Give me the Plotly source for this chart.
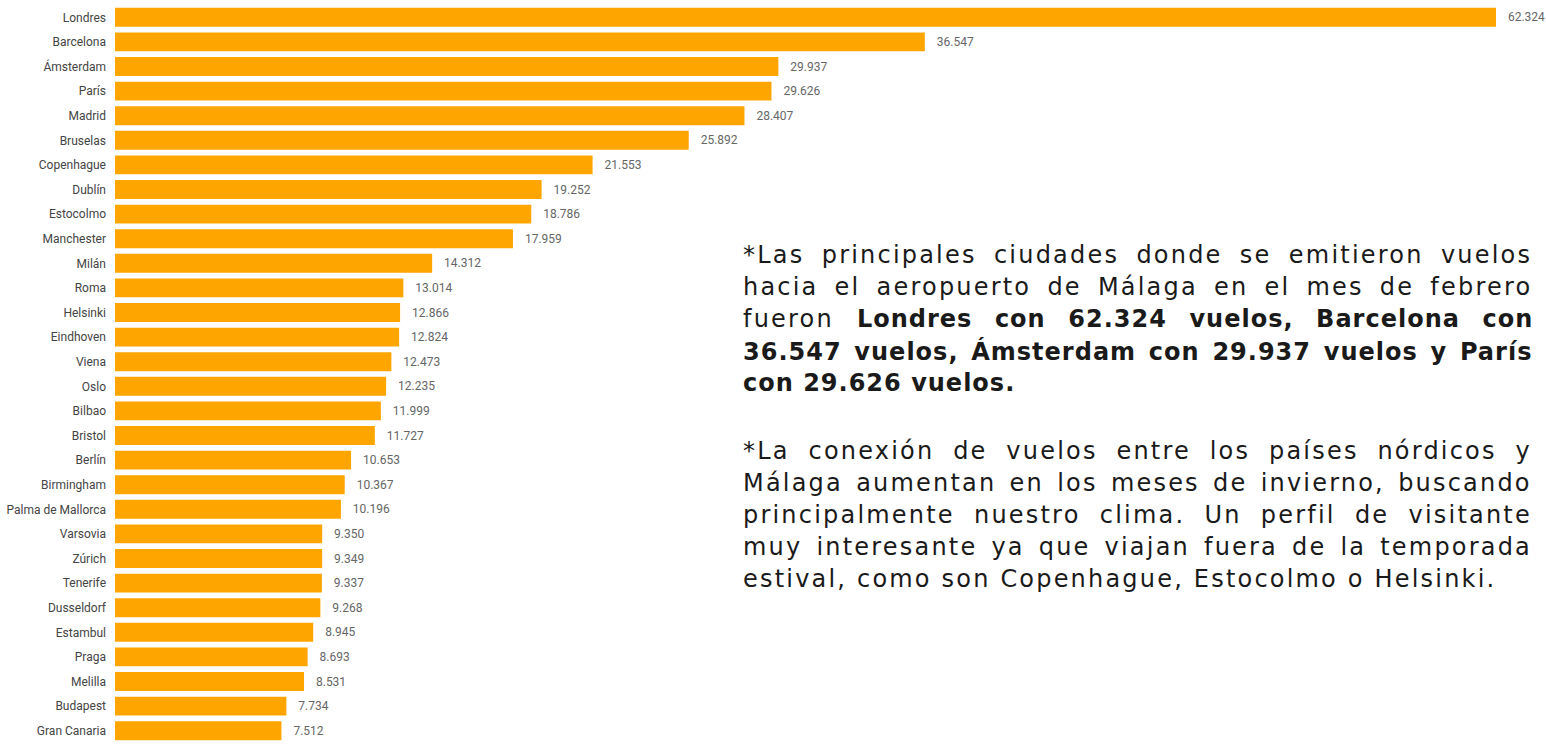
import plotly.graph_objects as go

cities = ["Londres", "Barcelona", "Ámsterdam", "París", "Madrid", "Bruselas",
          "Copenhague", "Dublín", "Estocolmo", "Manchester", "Milán", "Roma",
          "Helsinki", "Eindhoven", "Viena", "Oslo", "Bilbao", "Bristol", "Berlín",
          "Birmingham", "Palma de Mallorca", "Varsovia", "Zúrich", "Tenerife",
          "Dusseldorf", "Estambul", "Praga", "Melilla", "Budapest", "Gran Canaria"]
flights = [62324, 36547, 29937, 29626, 28407, 25892, 21553, 19252, 18786, 17959,
           14312, 13014, 12866, 12824, 12473, 12235, 11999, 11727, 10653, 10367,
           10196, 9350, 9349, 9337, 9268, 8945, 8693, 8531, 7734, 7512]

# each line: (normal part, bold part)
paragraph_1 = [
  ("*Las principales ciudades donde se emitieron vuelos", ""),
  ("hacia el aeropuerto de Málaga en el mes de febrero", ""),
  ("fueron ", "Londres con 62.324 vuelos, Barcelona con"),
  ("", "36.547 vuelos, Ámsterdam con 29.937 vuelos y París"),
  ("", "con 29.626 vuelos."),
]
paragraph_2 = [
  ("*La conexión de vuelos entre los países nórdicos y", ""),
  ("Málaga aumentan en los meses de invierno, buscando", ""),
  ("principalmente nuestro clima. Un perfil de visitante", ""),
  ("muy interesante ya que viajan fuera de la temporada", ""),
  ("estival, como son Copenhague, Estocolmo o Helsinki.", ""),
]
# extra word spacing (px) to fake justified text, last lines left as is
gaps_1 = [7.5, 6.3, 13.2, 3.4, 0]
gaps_2 = [9.0, 3.4, 9.4, 4.2, 0]


def fmt(v):
  return "\u00a0\u00a0\u00a0" + f"{v:,}".replace(",", ".")


def styled(normal, bold, gap):
  out = ""
  if normal:
    out += f'<span style="letter-spacing:2.2px;word-spacing:{gap}px">{normal}</span>'
  if bold:
    out += f'<b><span style="letter-spacing:1px;word-spacing:{gap}px">{bold}</span></b>'
  return out


fig = go.Figure()
fig.add_trace(go.Bar(
  x=flights,
  y=cities,
  orientation="h",
  marker=dict(color="#FFA500", line_width=0),
  text=[fmt(v) for v in flights],
  textposition="outside",
  textfont=dict(family="Roboto", size=12, color="#666666"),
  cliponaxis=False,
  hoverinfo="skip",
))

fig.update_layout(
  width=1546,
  height=747,
  margin=dict(l=115, r=0, t=5, b=4),
  paper_bgcolor="white",
  plot_bgcolor="white",
  bargap=0.23,
  showlegend=False,
  xaxis=dict(range=[0, 64580], visible=False),
  yaxis=dict(
    autorange="reversed",
    showgrid=False,
    ticks="",
    ticklabelstandoff=8,
    automargin=False,
    tickfont=dict(family="Roboto", size=12, color="#444444"),
  ),
  font=dict(family="Roboto"),
)

# px -> paper (plot area is 115..1546 in x, 5..743 in y)
def px_x(p):
  return (p - 115) / (1546 - 115)

def px_y(p):
  return 1 - (p - 5) / (743 - 5)

line_h = 32
for block, gaps, first_base in ((paragraph_1, gaps_1, 263), (paragraph_2, gaps_2, 459)):
  for i, (normal, bold) in enumerate(block):
    fig.add_annotation(
      text=styled(normal, bold, gaps[i]),
      xref="paper", yref="paper",
      x=px_x(741), y=px_y(first_base + i * line_h - 8),
      xanchor="left", yanchor="middle",
      align="left",
      showarrow=False,
      font=dict(family="DejaVu Sans", size=24, color="#1a1a1a"),
    )

fig.write_html("out.html", config={"displayModeBar": False},
               post_script="document.body.style.margin='0';")
